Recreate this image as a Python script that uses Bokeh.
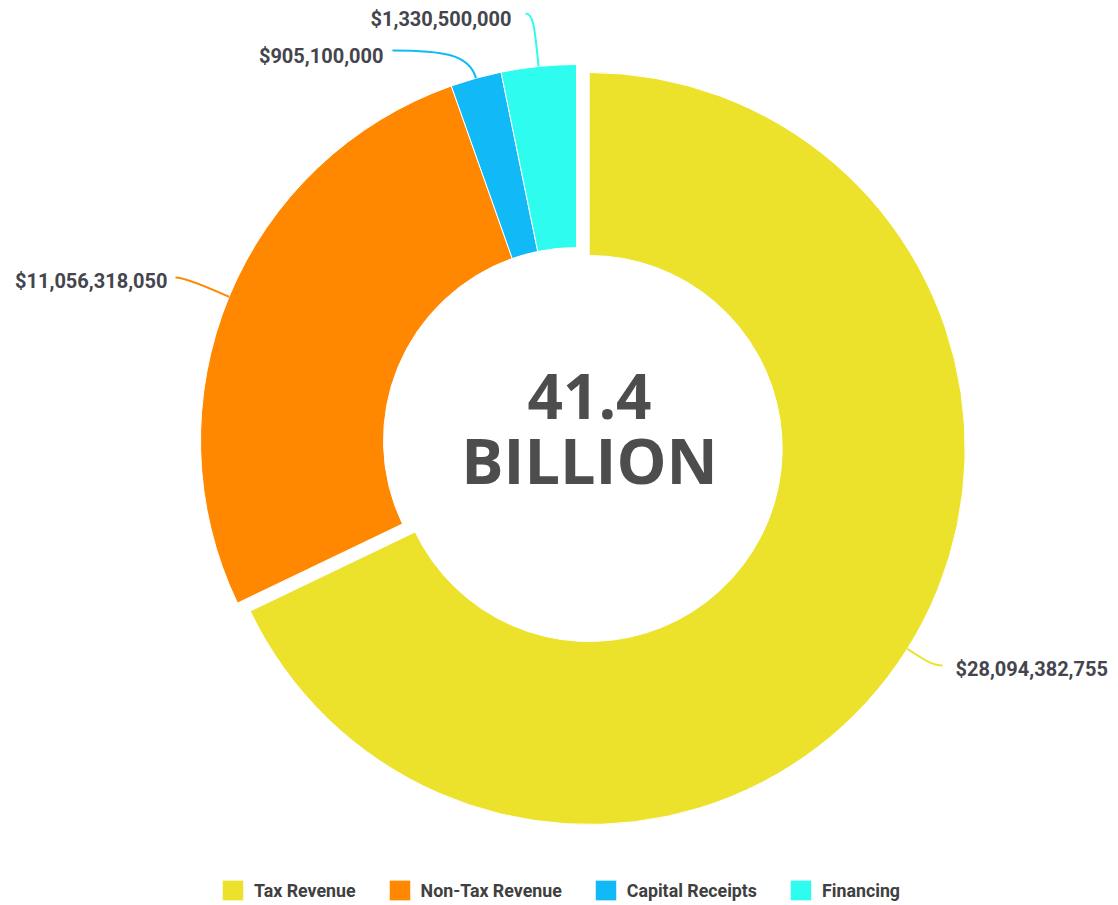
import math

from bokeh.core.properties import value
from bokeh.embed import file_html
from bokeh.models import ColumnDataSource, Legend, LegendItem, Range1d
from bokeh.plotting import figure
from bokeh.resources import INLINE

# Revenue sources and amounts (USD)
categories = ["Tax Revenue", "Non-Tax Revenue", "Capital Receipts", "Financing"]
amounts = [28094382755, 11056318050, 905100000, 1330500000]
colors = ["#ECE22C", "#FF8800", "#12B9F7", "#2EFCEE"]

# Layout (pixel space, y measured upward from the bottom edge)
W, H = 1118, 905
CX, CY = 576, 465
R_OUT, R_IN = 376, 193
explode = [15, 0, 0, 0]
# where each connector ends and where its value label sits
connector_end = [(942, H - 665), (175, H - 277), (392, H - 50), (525, H - 13)]
label_anchor = [(955, H - 668, "left"), (167, H - 280, "right"),
                (383, H - 55, "right"), (511, H - 18, "right")]
connector_pull = [14, 12, 25, 40]
connector_tail = [12, 12, 50, 8]

total = sum(amounts)
start, end, mid = [], [], []
acc = 0
for v in amounts:
    a0 = math.pi / 2 - 2 * math.pi * acc / total
    acc += v
    a1 = math.pi / 2 - 2 * math.pi * acc / total
    start.append(a0)
    end.append(a1)
    mid.append((a0 + a1) / 2)

xs = [CX + d * math.cos(m) for d, m in zip(explode, mid)]
ys = [CY + d * math.sin(m) for d, m in zip(explode, mid)]

src = ColumnDataSource(dict(x=xs, y=ys, start=start, end=end,
                            color=colors, category=categories))

p = figure(width=W, height=H, x_range=Range1d(0, W), y_range=Range1d(0, H),
           output_backend="svg", toolbar_location=None, min_border=0)
p.axis.visible = False
p.grid.visible = False
p.outline_line_color = None
p.background_fill_color = "white"
p.border_fill_color = "white"

wedges = p.annular_wedge(x="x", y="y", inner_radius=R_IN, outer_radius=R_OUT,
                         start_angle="start", end_angle="end", direction="clock",
                         fill_color="color", line_color="white", line_width=1,
                         source=src)

# connectors from each slice's outer edge to its value label
for i, v in enumerate(amounts):
    m = mid[i]
    ux, uy = math.cos(m), math.sin(m)
    sx, sy = xs[i] + R_OUT * ux, ys[i] + R_OUT * uy
    ex, ey = connector_end[i]
    k = connector_pull[i]
    c0x, c0y = sx + k * ux, sy + k * uy
    side = 1 if ex < sx else -1
    c1x, c1y = ex + side * connector_tail[i], ey
    p.bezier(x0=[sx], y0=[sy], x1=[ex], y1=[ey], cx0=[c0x], cy0=[c0y],
             cx1=[c1x], cy1=[c1y], line_color=colors[i], line_width=2)
    lx, ly, align = label_anchor[i]
    p.text(x=[lx], y=[ly], text=[f"${v:,}"], text_align=align,
           text_baseline="middle", text_font=value("Roboto"),
           text_font_style="bold", text_font_size="20px", text_color="#45454d")

# total in the middle of the ring
billions = total / 1e9
p.text(x=[589], y=[H - 396], text=[f"{billions:.1f}"], text_align="center",
       text_baseline="alphabetic", text_font=value("Open Sans"),
       text_font_style="bold", text_font_size="62px", text_color="#4d4d4d")
p.text(x=[589], y=[H - 459], text=["BILLION"], text_align="center",
       text_baseline="alphabetic", text_font=value("Open Sans"),
       text_font_style="bold", text_font_size="63px", text_color="#4d4d4d")

legend = Legend(items=[LegendItem(label=c, renderers=[wedges], index=i)
                       for i, c in enumerate(categories)],
                orientation="horizontal", location=(219, 2),
                padding=0, margin=0, spacing=30, label_standoff=8,
                glyph_width=27, glyph_height=26,
                label_text_font="Roboto", label_text_font_style="bold",
                label_text_font_size="17.8px", label_text_color="#404040",
                border_line_color=None, background_fill_alpha=0)
p.add_layout(legend)

open("out.html", "w").write(file_html(p, INLINE))
